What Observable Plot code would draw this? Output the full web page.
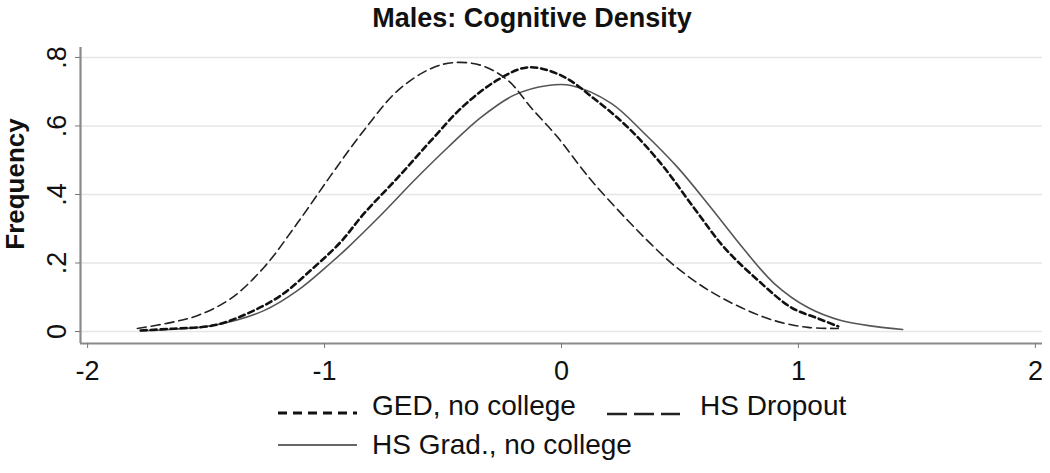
<!DOCTYPE html>
<html>
<head>
<meta charset="utf-8">
<script src="https://cdn.jsdelivr.net/npm/d3@7"></script>
<script src="https://cdn.jsdelivr.net/npm/@observablehq/plot@0.6"></script>
<style>
  html, body { margin: 0; padding: 0; background: #fff; }
  #wrap { position: relative; width: 1050px; height: 473px; overflow: hidden; font-family: "Liberation Sans", Arial, Helvetica, sans-serif; color: #111; }
  #title { position: absolute; left: 0; top: 5px; width: 1064px; text-align: center; font-weight: bold; font-size: 27px; line-height: 27px; }
  #ylab { position: absolute; left: 15px; top: 184px; transform: translate(-50%, -50%) rotate(-90deg); font-weight: bold; font-size: 26px; line-height: 26px; white-space: nowrap; }
  #chart { position: absolute; left: 0; top: 38px; }
  .lgtext { position: absolute; font-size: 28px; line-height: 28px; white-space: nowrap; }
  #lgsvg { position: absolute; left: 0; top: 0; }
</style>
</head>
<body>
<div id="wrap">
  <div id="title">Males: Cognitive Density</div>
  <div id="ylab">Frequency</div>
  <div id="chart"></div>
  <svg id="lgsvg" width="1050" height="473"></svg>
  <div class="lgtext" style="left:372px; top:392px;">GED, no college</div>
  <div class="lgtext" style="left:700px; top:392px;">HS Dropout</div>
  <div class="lgtext" style="left:372px; top:431px;">HS Grad., no college</div>
</div>
<script>
// ---- data ----
const xTicks = [-2, -1, 0, 1, 2];
const yTicks = [0, 0.2, 0.4, 0.6, 0.8];
const xDomain = [-2.03, 2.03];
const yDomain = [-0.035, 0.829];

const gedX = [-1.776, -1.65, -1.468, -1.324, -1.185, -1.045, -0.931, -0.834, -0.69, -0.55, -0.411, -0.268, -0.142, 0, 0.137, 0.28, 0.42, 0.56, 0.687, 0.83, 0.97, 1.083, 1.168];
const gedY = [0.003, 0.008, 0.018, 0.053, 0.105, 0.187, 0.262, 0.344, 0.45, 0.558, 0.66, 0.735, 0.771, 0.747, 0.68, 0.596, 0.49, 0.36, 0.245, 0.149, 0.07, 0.038, 0.015];

const dropX = [-1.79, -1.65, -1.535, -1.396, -1.256, -1.113, -0.974, -0.834, -0.69, -0.55, -0.454, -0.34, -0.226, -0.129, -0.015, 0.082, 0.137, 0.28, 0.378, 0.475, 0.617, 0.758, 0.898, 1.04, 1.168];
const dropY = [0.009, 0.026, 0.047, 0.096, 0.187, 0.318, 0.455, 0.587, 0.704, 0.768, 0.785, 0.777, 0.733, 0.654, 0.566, 0.479, 0.432, 0.324, 0.255, 0.193, 0.122, 0.07, 0.032, 0.012, 0.009];

const gradX = [-1.776, -1.65, -1.468, -1.256, -1.113, -0.974, -0.902, -0.762, -0.623, -0.48, -0.34, -0.2, -0.057, 0.04, 0.21, 0.35, 0.49, 0.63, 0.77, 0.898, 1.04, 1.18, 1.32, 1.44];
const gradY = [0.002, 0.006, 0.018, 0.061, 0.12, 0.2, 0.245, 0.34, 0.44, 0.537, 0.625, 0.69, 0.718, 0.718, 0.666, 0.578, 0.479, 0.362, 0.24, 0.14, 0.07, 0.032, 0.015, 0.006];

const seriesNames = ["GED, no college", "HS Dropout", "HS Grad., no college"];

const toRows = (xs, ys) => xs.map((x, i) => ({x, y: ys[i]}));
const ged = toRows(gedX, gedY);
const drop = toRows(dropX, dropY);
const grad = toRows(gradX, gradY);

const styles = {
  ged:  {stroke: "#111", strokeWidth: 2.6, strokeDasharray: "6,4"},
  drop: {stroke: "#222", strokeWidth: 1.6, strokeDasharray: "9,5"},
  grad: {stroke: "#555", strokeWidth: 1.6, strokeDasharray: null}
};

const fmtX = d => (d < 0 ? "-" + Math.abs(d) : String(d));
const fmtY = d => (d === 0 ? "0" : d.toFixed(1).replace(/^0/, ""));

const chart = Plot.plot({
  width: 1050,
  height: 350,
  marginLeft: 80,
  marginRight: 8,
  marginTop: 9,
  marginBottom: 45,
  style: {fontFamily: '"Liberation Sans", Arial, Helvetica, sans-serif', color: "#111", background: "transparent"},
  x: {domain: xDomain},
  y: {domain: yDomain},
  marks: [
    Plot.gridY(yTicks, {stroke: "#e6e6e6", strokeOpacity: 1, strokeWidth: 1.5}),
    Plot.ruleY([yDomain[0]], {stroke: "#8a8a8a", strokeWidth: 2.2}),
    Plot.ruleX([xDomain[0]], {stroke: "#8a8a8a", strokeWidth: 2.2}),
    Plot.axisX(xTicks, {tickSize: 5, tickPadding: 12, fontSize: 27, tickFormat: fmtX, label: null, stroke: "#777"}),
    Plot.axisY(yTicks, {tickSize: 5, tickPadding: 10, tickRotate: -90, fontSize: 27, tickFormat: fmtY, label: null, stroke: "#777"}),
    Plot.line(grad, {x: "x", y: "y", curve: "catmull-rom", ...styles.grad}),
    Plot.line(ged, {x: "x", y: "y", curve: "catmull-rom", ...styles.ged}),
    Plot.line(drop, {x: "x", y: "y", curve: "catmull-rom", ...styles.drop})
  ]
});
document.getElementById("chart").appendChild(chart);

// legend samples
const lg = d3.select("#lgsvg");
const samples = [
  {x1: 278, x2: 357, y: 413, s: {stroke: "#111", width: 3.2, dash: "9,6"}},
  {x1: 607, x2: 680, y: 414, s: {stroke: "#222", width: 2.6, dash: "20,7"}},
  {x1: 278, x2: 357, y: 445, s: {stroke: "#666", width: 2, dash: null}}
];
samples.forEach(d => {
  lg.append("line").attr("x1", d.x1).attr("x2", d.x2).attr("y1", d.y).attr("y2", d.y)
    .attr("stroke", d.s.stroke).attr("stroke-width", d.s.width)
    .attr("stroke-dasharray", d.s.dash);
});
</script>
</body>
</html>
